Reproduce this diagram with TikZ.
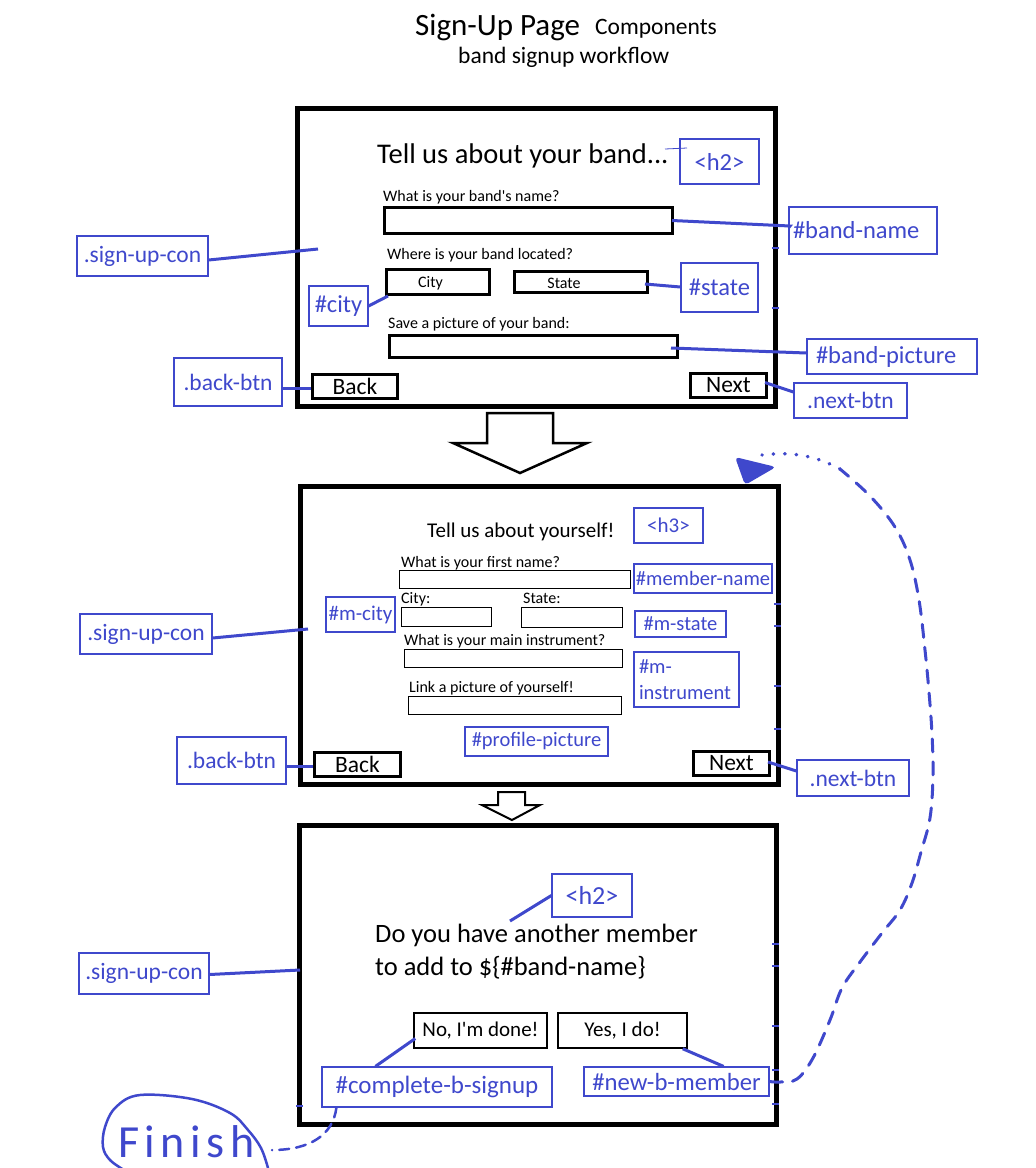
\documentclass[tikz,border=0pt]{standalone}
\usepackage{fontspec}
\setmainfont{Carlito}[Ligatures=TeXOff]
\definecolor{pb}{RGB}{63,72,204}
\begin{document}
\begin{tikzpicture}[x=1pt,y=-1pt,
  frm/.style={draw, line width=5pt, inner sep=0pt},
  inp/.style={draw, line width=3pt, inner sep=0pt},
  tinp/.style={draw, line width=1.8pt, inner sep=0pt},
  lbl/.style={draw=pb, line width=1.2pt, text=pb, inner sep=0pt},
  con/.style={draw=pb, line width=3pt},
  tick/.style={draw=pb, line width=1.5pt},
  txt/.style={inner sep=0pt, anchor=base west},
  fA/.style={font=\fontsize{16}{19}\selectfont},
  fB/.style={font=\fontsize{21}{25}\selectfont},
  fC/.style={font=\fontsize{23.5}{28}\selectfont},
  fD/.style={font=\fontsize{24.5}{29}\selectfont},
  bigarrow/.style={draw, line width=2.5pt, fill=white, line join=miter}
]
\fill[white] (0,0) rectangle (1036,1168);
\useasboundingbox (0,0) rectangle (1036,1168);

% ---------- title ----------
\node[txt, font=\fontsize{31}{36}\selectfont] (t1) at (415,35) {Sign-Up Page};
\node[txt, font=\fontsize{23.5}{28}\selectfont] (t2) at (595,34) {Components};
\node[txt, font=\fontsize{23.5}{28}\selectfont] (t3) at (458,63) {band signup workflow};

% ---------- frame 1 ----------
\node[frm, minimum width=478pt, minimum height=298pt] (f1) at (536.5,257.5) {};
\node[txt, font=\fontsize{28.5}{33}\selectfont] (h1txt) at (377,163) {Tell us about your band...};
\node[txt, fA] (q1) at (383,201) {What is your band's name?};
\node[inp, minimum width=288pt, minimum height=26pt] (bninp) at (528.5,220.5) {};
\node[txt, fA] (q2) at (387,259) {Where is your band located?};
\node[inp, minimum width=103pt, minimum height=25pt] (cityinp) at (438,282) {};
\node[inner sep=0pt, anchor=base, fA] (citytxt) at (430.5,287) {City};
\node[inp, minimum width=133pt, minimum height=21pt] (stateinp) at (581,282) {};
\node[inner sep=0pt, anchor=base, fA] (statetxt) at (564,288) {State};
\node[txt, fA] (q3) at (388,328) {Save a picture of your band:};
\node[inp, minimum width=288pt, minimum height=22pt] (picinp) at (533.5,346.5) {};
\node[inp, minimum width=85pt, minimum height=24pt, fC] (back1) at (355,386.5) {Back};
\node[inp, minimum width=76pt, minimum height=24pt, fC] (next1) at (728.5,385.5) {Next};

\node[lbl, fD, minimum width=79pt, minimum height=45pt] (h2a) at (719.5,161.5) {<h2>};
\node[lbl, fD, minimum height=47pt, inner xsep=4pt, text width=140pt, align=left] (bnl) at (863,230.5) {\#band-name};
\node[lbl, fD, minimum width=77pt, minimum height=49pt] (statel) at (719.5,287.5) {\#state};
\node[lbl, fD, minimum width=59pt, minimum height=40pt] (cityl) at (338.5,306) {\#city};
\node[lbl, fD, minimum height=35pt, inner xsep=9pt, text width=152pt, align=left] (bpl) at (892,356.5) {\#band-picture};
\node[lbl, fC, minimum width=113pt, minimum height=35pt] (nbl1) at (850.5,400.5) {.next-btn};
\node[lbl, fC, minimum width=131pt, minimum height=40pt] (suc1) at (142.5,256) {.sign-up-con};
\node[lbl, fC, minimum width=108pt, minimum height=48pt] (bbl1) at (228,382) {.back-btn};

\coordinate (h2tick) at (665,149);
\coordinate (h2tickb) at (687,148);
\draw[pb, line width=0.8pt] (h2tick) -- (h2tickb);
\draw[con] ([xshift=-2pt]bninp.east) -- (790,226) -- (bnl.west |- 0,228);
\draw[con] (cityl.east) -- ([xshift=3pt]cityinp.south west);
\draw[con] ([xshift=-4pt,yshift=-2pt]stateinp.east) -- ([yshift=0.5pt]statel.west);
\draw[con] ([xshift=-8pt,yshift=-1.5pt]picinp.east) -- (bpl.west |- 0,353);
\draw[con] ([xshift=-3pt,yshift=3pt]next1.east) -- ([yshift=8.5pt]nbl1.west);
\coordinate (f1in) at (318,249);
\draw[con] ([yshift=-4pt]suc1.east) -- (f1in);
\draw[con] ([yshift=-6pt]bbl1.east) -- ([yshift=-1.5pt]back1.west);
\foreach \yy in {248,308} \draw[tick] (772,\yy) -- (779,\yy);

% ---------- arrow 1 ----------
\draw[bigarrow] (487,413) -- (553,413) -- (553,443) -- (587,443) -- (520,473) -- (453,443) -- (487,443) -- cycle;

% ---------- frame 2 ----------
\node[frm, minimum width=477.5pt, minimum height=298.5pt] (f2) at (539.25,635.25) {};
\node[txt, fB] (h3txt) at (427,537) {Tell us about yourself!};
\node[txt, fA] (p1) at (401,567) {What is your first name?};
\node[tinp, minimum width=231pt, minimum height=18pt] (firstinp) at (515,579.5) {};
\node[txt, fA] (p2) at (401,603) {City:};
\node[txt, fA] (p3) at (523,603) {State:};
\node[tinp, minimum width=90pt, minimum height=19pt] (mcityinp) at (446.5,617) {};
\node[tinp, minimum width=101pt, minimum height=20pt] (mstateinp) at (572,617.5) {};
\node[txt, fA] (p4) at (404,645) {What is your main instrument?};
\node[tinp, minimum width=218pt, minimum height=18pt] (instinp) at (513.5,658.5) {};
\node[txt, fA] (p5) at (409,692) {Link a picture of yourself!};
\node[tinp, minimum width=213pt, minimum height=18pt] (ppinp) at (515,705.5) {};
\node[inp, minimum width=86pt, minimum height=24pt, fC] (back2) at (357.5,764.5) {Back};
\node[inp, minimum width=76pt, minimum height=24pt, fC] (next2) at (731.5,763.5) {Next};

\node[lbl, fB, minimum width=69pt, minimum height=35pt] (h3l) at (668.5,525.5) {<h3>};
\node[lbl, font=\fontsize{20.5}{24}\selectfont, minimum width=138pt, minimum height=29pt] (meml) at (703,578.5) {\#member-name};
\node[lbl, fB, minimum width=69pt, minimum height=35pt] (mcityl) at (360.5,614.5) {\#m-city};
\node[lbl, font=\fontsize{20.5}{24}\selectfont, minimum width=91pt, minimum height=26pt] (mstatel) at (680.5,624) {\#m-state};
\node[lbl, font=\fontsize{20.5}{26}\selectfont, minimum height=55pt, inner xsep=5pt, text width=95pt, align=left] (minstl) at (686.5,679.5) {\#m-\\instrument};
\node[lbl, font=\fontsize{20.5}{24}\selectfont, minimum width=143pt, minimum height=29pt] (ppl) at (536.5,741.5) {\#profile-picture};
\node[lbl, fC, minimum width=109pt, minimum height=47pt] (bbl2) at (231.5,760.5) {.back-btn};
\node[lbl, fC, minimum width=112pt, minimum height=36pt] (nbl2) at (853,778) {.next-btn};
\node[lbl, fC, minimum width=132pt, minimum height=40pt] (suc2) at (146,634) {.sign-up-con};

\coordinate (f2in) at (308,629);
\draw[con] ([yshift=-4pt]suc2.east) -- (f2in);
\draw[con] ([yshift=-5.5pt]bbl2.east) -- ([yshift=-1.5pt]back2.west);
\draw[con] ([xshift=-3pt,yshift=1.5pt]next2.east) -- ([yshift=7pt]nbl2.west);
\foreach \yy in {604,626,686,729} \draw[tick] (774,\yy) -- (781,\yy);

% ---------- arrow 2 ----------
\draw[bigarrow, line width=2pt] (498,792) -- (525,792) -- (525,805) -- (540,805) -- (512,820) -- (482,805) -- (498,805) -- cycle;

% ---------- frame 3 ----------
\node[frm, minimum width=476.5pt, minimum height=298.5pt] (f3) at (537.75,974.75) {};
\node[txt, font=\fontsize{26.5}{32}\selectfont] (q3a) at (375,942) {Do you have another member};
\node[txt, font=\fontsize{26.5}{32}\selectfont] (q3b) at (375,975) {to add to \$\{\#band-name\}};
\node[draw, line width=1.5pt, inner sep=0pt, fB, minimum width=133pt, minimum height=35pt] (nob) at (480.5,1030.5) {No, I'm done!};
\node[draw, line width=1.5pt, inner sep=0pt, fB, minimum width=129pt, minimum height=35pt] (yesb) at (622.5,1030.5) {Yes, I do!};

\node[lbl, font=\fontsize{26}{30}\selectfont, minimum width=80pt, minimum height=43pt] (h2b) at (592,895.5) {<h2>};
\node[lbl, font=\fontsize{25}{30}\selectfont, minimum width=230pt, minimum height=40pt] (compl) at (437,1087) {\#complete-b-signup};
\node[lbl, font=\fontsize{24.7}{29}\selectfont, minimum width=185pt, minimum height=29pt] (newbl) at (676.5,1081.5) {\#new-b-member};
\node[lbl, fC, minimum width=130pt, minimum height=41pt] (suc3) at (144,973.5) {.sign-up-con};

\coordinate (h3src) at (510,921);
\draw[con] (h3src) -- (h2b.west);
\draw[con] ([xshift=2pt,yshift=-8pt]nob.west) -- ([xshift=54pt]compl.north west);
\draw[con] ([xshift=-5pt]yesb.south east) -- ([xshift=-46pt]newbl.north east);
\coordinate (f3in) at (300,970);
\draw[con] ([yshift=-1pt]suc3.east) -- (f3in);
\foreach \yy in {944,966,1026,1070,1104} \draw[tick] (772,\yy) -- (779,\yy);
\draw[tick] (296,1106) -- (303,1106);

% ---------- loop back (dashed) ----------
\draw[pb, line width=3pt, line cap=round, dash pattern=on 13pt off 10pt]
  plot[smooth, tension=0.6] coordinates {(newbl.east) (780,1082) (797,1079) (813,1058) (830,1020) (842,988) (860,962) (882,933) (900,910) (912,883) (921,852) (930,818) (933,776) (932,734) (929,692) (925,650) (919,600) (910,560) (895,527) (870,496) (840,469)};
\coordinate (loopend) at (762,455);
\draw[pb, line width=3.5pt, line cap=round, dash pattern=on 0.5pt off 11pt]
  (840,469) .. controls (818,457) and (795,451) .. (loopend);
\fill[pb, rounded corners=4pt] (735,457) -- (776,467) -- (745,485) -- cycle;

% ---------- Finish ----------
\node[txt, text=pb, font=\fontsize{46}{50}\selectfont\addfontfeature{LetterSpace=12}] (fin) at (118,1157) {Finish};
\draw[pb, line width=2.5pt, line cap=round]
  plot[smooth, tension=0.6] coordinates {(268,1168) (261,1148) (248,1130) (230,1113) (192,1099) (140,1095) (116,1107) (105,1127) (103,1147) (110,1160) (124,1170)};
\coordinate (finend) at (272,1150);
\draw[pb, line width=2.5pt, line cap=round, dash pattern=on 10pt off 7pt]
  ([xshift=15pt]compl.south west) .. controls (333,1135) and (310,1150) .. (finend);
\end{tikzpicture}
\end{document}
